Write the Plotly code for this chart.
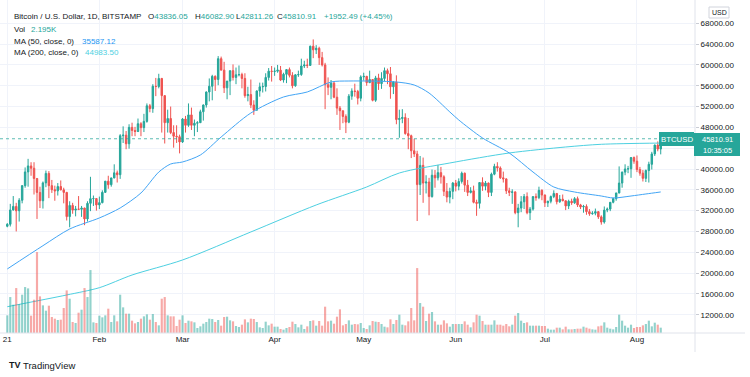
import pandas as pd
import plotly.graph_objects as go

# ---------------- data ----------------
dates = pd.date_range("2021-01-01", "2021-08-09", freq="D")

open_ = [
    28990, 29375, 32130, 32810, 31970, 33990, 36800, 39440, 40590, 40150, 38180, 35500, 33900, 37330, 39150, 36800, 36020, 35800, 36630, 35990, 35500, 30850, 33000, 32100, 32300, 32260, 32500, 30400, 33400, 34300, 34320,
    33100, 33530, 35510, 37660, 36980, 38290, 39260, 38900, 46400, 46500, 44850, 48000, 47400, 47200, 48700, 47950, 49150, 52150, 51600, 55900, 55850, 57400, 54100, 48900, 49700, 47000, 46300, 46200,
    45200, 49600, 48400, 50400, 48400, 48800, 48900, 51000, 52300, 54800, 55900, 57800, 57200, 61200, 59000, 55600, 56900, 58900, 57600, 58100, 58150, 57400, 54100, 54300, 52300, 51300, 55000, 55800, 55850, 57600, 58800,
    58750, 58800, 59000, 57100, 58200, 59100, 58000, 56000, 58100, 58150, 59800, 60000, 59900, 63600, 62900, 63200, 61400, 60000, 56200, 55700, 56500, 53800, 51700, 51200, 50100, 49000, 54000, 55000, 54900, 53600,
    57700, 57800, 56600, 57200, 53200, 57500, 56400, 57400, 58900, 58300, 55800, 56700, 49500, 49700, 49900, 46800, 46400, 43500, 42900, 37000, 40700, 37300, 37500, 34700, 38800, 38300, 39300, 38500, 35700, 34600, 35700,
    37300, 36700, 37600, 39200, 36900, 35500, 35800, 33600, 33400, 37400, 36700, 37300, 35500, 39000, 40500, 40200, 38300, 38100, 35800, 35500, 35600, 31600, 32500, 33700, 34700, 31600, 32300, 34700, 34500, 35900,
    35000, 33500, 33800, 34700, 35300, 33700, 34200, 33900, 32900, 33800, 33500, 34300, 33100, 32700, 32800, 31800, 31400, 31500, 31800, 30800, 29800, 32100, 32300, 33600, 34300, 35400, 37300, 39400, 40000, 40050, 42200,
    41500, 39900, 39200, 38200, 39700, 40900, 42900, 44600, 43836.05,
]
high = [
    29600, 33300, 34800, 33500, 34400, 36900, 40300, 41950, 41300, 41300, 38200, 36600, 37600, 39700, 39600, 37900, 36800, 37300, 37800, 36400, 35600, 33800, 33500, 32900, 34800, 32900, 32550, 33800, 38500, 34900, 34400,
    34700, 35900, 37700, 38700, 38300, 40900, 39700, 46700, 48200, 47300, 48600, 48900, 48100, 49700, 49000, 50600, 52600, 52500, 56300, 57500, 58300, 57500, 54200, 51400, 52000, 48400, 48400, 46600,
    49800, 50200, 52600, 51800, 49500, 49200, 51400, 52400, 54900, 57400, 58100, 58000, 61700, 61600, 60600, 56900, 58900, 60100, 59500, 59900, 58500, 58400, 55800, 57200, 53200, 55100, 56600, 56600, 58400, 59400, 59800,
    59500, 60000, 59800, 58500, 59200, 59500, 58600, 58200, 58900, 61200, 60800, 61200, 63700, 64900, 63800, 63500, 62500, 60400, 57600, 57100, 56800, 55500, 52100, 51200, 50500, 54400, 55500, 56400, 55200, 58000,
    58500, 57900, 58900, 57200, 57900, 58300, 58600, 59500, 59300, 59600, 56900, 58000, 51400, 51500, 50700, 49800, 46600, 45800, 43500, 42500, 42200, 38800, 38300, 39900, 39800, 40800, 40400, 38800, 37300, 36400, 37500,
    37900, 38200, 39500, 39300, 37900, 36500, 36800, 34100, 37500, 38400, 37700, 37400, 39300, 41000, 41300, 40500, 39500, 38200, 36400, 36100, 35700, 33300, 34800, 35200, 35500, 32700, 34700, 35300, 36600, 36100,
    35100, 33900, 34900, 35900, 35300, 35000, 35100, 33900, 34100, 34300, 34600, 34700, 33300, 33100, 33200, 32300, 31900, 32400, 31900, 31100, 32800, 32600, 33600, 34500, 35400, 40500, 39500, 40900, 40600, 42300, 42400,
    42600, 40400, 39800, 39900, 41400, 43300, 44700, 45300, 46082.90,
]
low = [
    28800, 28950, 32000, 28000, 29900, 33400, 36400, 36600, 38700, 35100, 30400, 32500, 32400, 36500, 34400, 35400, 33900, 34900, 35900, 33400, 30100, 28800, 31400, 30900, 32100, 30800, 29200, 29900, 31900, 32900, 32000,
    32300, 33400, 35400, 36200, 36600, 38200, 37400, 38100, 45000, 43800, 43900, 46300, 46300, 47100, 46300, 47100, 48900, 50900, 50800, 54000, 55500, 47000, 44900, 47000, 46700, 44100, 45000, 43000,
    45000, 47000, 48100, 47500, 46300, 47100, 48900, 49300, 51800, 53000, 53200, 55000, 56100, 59000, 54600, 53400, 54200, 57000, 56300, 57800, 55500, 53700, 53000, 51700, 50400, 51300, 53900, 54700, 54900, 57000, 56800,
    57900, 58500, 56900, 56600, 56500, 57600, 55500, 55800, 57700, 57900, 59400, 59400, 59800, 61300, 62100, 60000, 59700, 51500, 54200, 53400, 53600, 50400, 47500, 48800, 46900, 48800, 53300, 53900, 52400, 53000,
    57000, 56000, 56500, 53000, 52900, 55200, 55400, 56900, 56300, 53500, 54400, 48600, 46000, 48800, 46600, 43800, 42100, 42300, 30000, 35000, 33500, 35300, 31100, 34500, 36400, 37800, 37200, 34800, 33600, 33400, 34200,
    35700, 35900, 37200, 35600, 34800, 35300, 33400, 31000, 32400, 35800, 35900, 34600, 34800, 38800, 39500, 38100, 37400, 35200, 34800, 33300, 31300, 28800, 31700, 32300, 31300, 30200, 32000, 33900, 34200, 34000,
    32700, 32700, 33400, 34400, 33200, 33500, 33800, 32100, 32300, 33100, 33300, 32700, 32300, 31600, 31200, 31000, 31200, 31100, 30400, 29300, 29500, 31700, 31900, 33400, 33900, 35300, 36400, 38800, 39200, 38300, 41000,
    39400, 38700, 37600, 37500, 37400, 39900, 42500, 43400, 42811.26,
]
close = [
    29375, 32130, 32810, 31970, 33990, 36800, 39440, 40590, 40150, 38180, 35500, 33900, 37330, 39150, 36800, 36020, 35800, 36630, 35990, 35500, 30850, 33000, 32100, 32300, 32260, 32500, 30400, 33400, 34300, 34320, 33100,
    33530, 35510, 37660, 36980, 38290, 39260, 38900, 46400, 46500, 44850, 48000, 47400, 47200, 48700, 47950, 49150, 52150, 51600, 55900, 55850, 57400, 54100, 48900, 49700, 47000, 46300, 46200, 45200,
    49600, 48400, 50400, 48400, 48800, 48900, 51000, 52300, 54800, 55900, 57800, 57200, 61200, 59000, 55600, 56900, 58900, 57600, 58100, 58150, 57400, 54100, 54300, 52300, 51300, 55000, 55800, 55850, 57600, 58800, 58750,
    58800, 59000, 57100, 58200, 59100, 58000, 56000, 58100, 58150, 59800, 60000, 59900, 63600, 62900, 63200, 61400, 60000, 56200, 55700, 56500, 53800, 51700, 51200, 50100, 49000, 54000, 55000, 54900, 53600, 57700,
    57800, 56600, 57200, 53200, 57500, 56400, 57400, 58900, 58300, 55800, 56700, 49500, 49700, 49900, 46800, 46400, 43500, 42900, 37000, 40700, 37300, 37500, 34700, 38800, 38300, 39300, 38500, 35700, 34600, 35700, 37300,
    36700, 37600, 39200, 36900, 35500, 35800, 33600, 33400, 37400, 36700, 37300, 35500, 39000, 40500, 40200, 38300, 38100, 35800, 35500, 35600, 31600, 32500, 33700, 34700, 31600, 32300, 34700, 34500, 35900, 35000,
    33500, 33800, 34700, 35300, 33700, 34200, 33900, 32900, 33800, 33500, 34300, 33100, 32700, 32800, 31800, 31400, 31500, 31800, 30800, 29800, 32100, 32300, 33600, 34300, 35400, 37300, 39400, 40000, 40050, 42200, 41500,
    39900, 39200, 38200, 39700, 40900, 42900, 44600, 43836.05, 45810.91,
]
# volume, arbitrary units (bar heights)
volume = [
    53, 108, 85, 135, 87, 115, 138, 134, 52, 100, 243, 110, 83, 67, 82, 48, 43, 39, 40, 75, 128, 103, 33, 30, 61, 70, 135, 108, 189, 32, 30,
    52, 47, 53, 73, 33, 53, 35, 115, 77, 58, 58, 37, 29, 33, 43, 50, 56, 40, 57, 33, 23, 103, 108, 53, 50, 50, 21, 40,
    53, 30, 37, 35, 32, 15, 20, 28, 33, 43, 42, 33, 39, 22, 48, 49, 38, 35, 21, 18, 25, 41, 32, 43, 42, 33, 17, 15, 34, 23, 28,
    19, 19, 12, 10, 15, 18, 34, 27, 17, 25, 12, 20, 36, 38, 22, 36, 22, 79, 35, 37, 28, 49, 71, 23, 27, 38, 25, 27, 26, 30,
    15, 12, 23, 36, 34, 33, 27, 19, 17, 41, 27, 39, 55, 25, 23, 35, 75, 38, 195, 90, 79, 36, 58, 63, 35, 25, 25, 38, 29, 19, 27,
    27, 27, 27, 35, 25, 17, 32, 55, 52, 36, 25, 25, 25, 38, 25, 25, 22, 27, 20, 25, 52, 60, 37, 30, 32, 22, 22, 22, 22, 21,
    21, 13, 10, 10, 16, 16, 11, 19, 11, 11, 12, 13, 13, 19, 16, 13, 11, 10, 20, 22, 32, 16, 13, 11, 18, 55, 37, 22, 16, 25, 15,
    18, 18, 23, 27, 37, 20, 31, 25, 16,
]
ma50_dates = ["2021-01-01", "2021-01-13", "2021-01-22", "2021-02-01", "2021-02-08", "2021-02-15", "2021-02-21",
              "2021-02-25", "2021-03-01", "2021-03-07", "2021-03-14", "2021-03-24", "2021-04-04", "2021-04-12",
              "2021-04-20", "2021-04-26", "2021-05-12", "2021-05-18", "2021-05-23", "2021-05-30", "2021-06-02",
              "2021-06-10", "2021-06-19", "2021-06-27", "2021-07-04", "2021-07-11", "2021-07-20", "2021-07-24",
              "2021-07-30", "2021-08-04", "2021-08-09"]
ma50_values = [20790, 25260, 28470, 30590, 32510, 35390, 39420, 40960, 41350, 42690, 46150, 50760, 53840, 54800,
               56720, 56910, 56720, 56140, 54600, 50960, 49420, 45960, 43080, 39420, 36540, 35580, 34810, 34430,
               34810, 35200, 35587.12]
ma200_dates = ["2021-01-01", "2021-01-21", "2021-02-01", "2021-02-12", "2021-03-01", "2021-03-24", "2021-04-15",
               "2021-05-02", "2021-05-13", "2021-05-30", "2021-06-19", "2021-07-08", "2021-07-20", "2021-08-09"]
ma200_values = [13540, 15790, 17190, 19630, 22515, 27900, 33085, 36543, 39233, 41155, 43076, 44230, 44748, 44983.50]

price_ticks = [12000, 16000, 20000, 24000, 28000, 32000, 36000, 40000, 44000, 48000, 52000, 56000, 60000, 64000, 68000]
# the 44000 label is hidden behind the last-price tag in the original
price_labels = ["12000.00", "16000.00", "20000.00", "24000.00", "28000.00", "32000.00", "36000.00", "40000.00", "",
                "48000.00", "52000.00", "56000.00", "60000.00", "64000.00", "68000.00"]
month_ticks = ["2021-01-01", "2021-02-01", "2021-03-01", "2021-04-01", "2021-05-01", "2021-06-01", "2021-07-01", "2021-08-01"]
month_labels = ["21", "Feb", "Mar", "Apr", "May", "Jun", "Jul", "Aug"]

# ---------------- styling ----------------
UP = "#26a69a"
DOWN = "#ef5350"
UP_VOL = "rgba(38,166,154,0.5)"
DOWN_VOL = "rgba(239,83,80,0.5)"
TXT = "#131722"
GRID = "#f0f3fa"
FONT = "Liberation Sans"
HDR = 8.0
W, H = 750, 377
PL, PR, PT, PB = 0, 695, 0, 333  # plot area in pixels


def px(x):
    return (x - PL) / (PR - PL)


def py(y):
    return 1 - (y - PT) / (PB - PT)


vol_colors = [UP_VOL if c >= o else DOWN_VOL for o, c in zip(open_, close)]

fig = go.Figure()
fig.add_trace(go.Bar(x=dates, y=volume, marker=dict(color=vol_colors, line=dict(width=0)),
                     width=0.72 * 86400000, yaxis="y2", hoverinfo="skip"))
fig.add_trace(go.Scatter(x=ma200_dates, y=ma200_values, mode="lines",
                         line=dict(color="#4dd0e1", width=1, shape="spline", smoothing=0.8), hoverinfo="skip"))
fig.add_trace(go.Scatter(x=ma50_dates, y=ma50_values, mode="lines",
                         line=dict(color="#42a5f5", width=1, shape="spline", smoothing=0.8), hoverinfo="skip"))
fig.add_trace(go.Candlestick(
    x=dates, open=open_, high=high, low=low, close=close,
    increasing=dict(line=dict(color=UP, width=1), fillcolor=UP),
    decreasing=dict(line=dict(color=DOWN, width=1), fillcolor=DOWN),
    whiskerwidth=0, hoverinfo="skip"))

last = close[-1]
shapes = [
    dict(type="line", xref="paper", yref="y", x0=0, x1=1, y0=last, y1=last,
         line=dict(color="rgba(38,166,154,0.75)", width=1, dash="dot")),
    # separators
    dict(type="line", xref="paper", yref="paper", x0=px(695), x1=px(695), y0=py(0), y1=py(352),
         line=dict(color="#e0e3eb", width=1)),
    dict(type="line", xref="paper", yref="paper", x0=px(0), x1=px(745), y0=py(333), y1=py(333),
         line=dict(color="#e0e3eb", width=1)),
    # symbol label
    dict(type="rect", xref="paper", yref="paper", x0=px(659), x1=px(694), y0=py(132), y1=py(146),
         fillcolor=UP, line=dict(width=0)),
    # price label on axis
    dict(type="rect", xref="paper", yref="paper", x0=px(694), x1=px(740), y0=py(133), y1=py(156),
         fillcolor=UP, line=dict(width=0)),
    # USD box
    dict(type="rect", xref="paper", yref="paper", x0=px(709), x1=px(729), y0=py(7), y1=py(18),
         fillcolor="white", line=dict(color="#d1d4dc", width=1)),
]


def ann(x, y, text, color=TXT, size=HDR, anchor="left", bold=False, pad=1):
    return dict(x=px(x), y=py(y), xref="paper", yref="paper", text=f"<b>{text}</b>" if bold else text,
                showarrow=False, xanchor=anchor, yanchor="middle", borderpad=pad,
                font=dict(family=FONT, size=size, color=color))


annotations = [
    ann(12, 16, "Bitcoin / U.S. Dollar, 1D, BITSTAMP"),
    ann(146, 16, f"O<span style='color:{UP}'>43836.05</span>"),
    ann(193, 16, f"H<span style='color:{UP}'>46082.90</span>"),
    ann(234, 16, f"L<span style='color:{UP}'>42811.26</span>"),
    ann(275, 16, f"C<span style='color:{UP}'>45810.91</span>"),
    ann(322, 16, "+1952.49 (+4.45%)", color=UP),
    ann(12, 29, "Vol"),
    ann(29, 29, "2.195K", color=UP),
    ann(12, 41, "MA (50, close, 0)"),
    ann(80, 41, "35587.12", color="#2196f3"),
    ann(12, 53, "MA (200, close, 0)"),
    ann(83, 53, "44983.50", color="#4dd0e1"),
    ann(676.5, 139, "BTCUSD", color="white", size=7.8, anchor="center", pad=0),
    ann(717, 139, "45810.91", color="white", size=7.5, anchor="center", pad=0),
    ann(717, 150, "10:35:05", color="white", size=7.5, anchor="center", pad=0),
    ann(719, 12.5, "USD", size=7, anchor="center", pad=0),
    ann(7, 365, "TV", size=9, bold=True),
    ann(21, 365, "TradingView", size=9.5),
]

fig.update_layout(
    width=W, height=H,
    margin=dict(l=PL, r=W - PR, t=PT, b=H - PB),
    paper_bgcolor="white", plot_bgcolor="white",
    showlegend=False, barmode="overlay", dragmode=False,
    font=dict(family=FONT, color=TXT, size=8),
    xaxis=dict(type="date", range=["2020-12-29 13:00", "2021-08-20 13:00"],
               rangeslider=dict(visible=False), tickmode="array", tickvals=month_ticks, ticktext=month_labels,
               showgrid=True, gridcolor=GRID, gridwidth=1, showline=False, zeroline=False, ticks="",
               tickfont=dict(family=FONT, size=8, color=TXT), automargin=False),
    yaxis=dict(side="right", range=[8483, 72477], tickmode="array", tickvals=price_ticks,
               ticktext=price_labels, showgrid=True, gridcolor=GRID, gridwidth=1,
               zeroline=False, showline=False, ticks="outside", ticklen=3, tickcolor="#c9ccd4",
               tickfont=dict(family=FONT, size=8, color=TXT), automargin=False),
    yaxis2=dict(overlaying="y", range=[0, 1000], visible=False, showgrid=False),
    shapes=shapes, annotations=annotations,
)

fig.write_html("out.html", config={"displayModeBar": False},
               post_script="document.body.style.margin='0';document.body.style.padding='0';")
